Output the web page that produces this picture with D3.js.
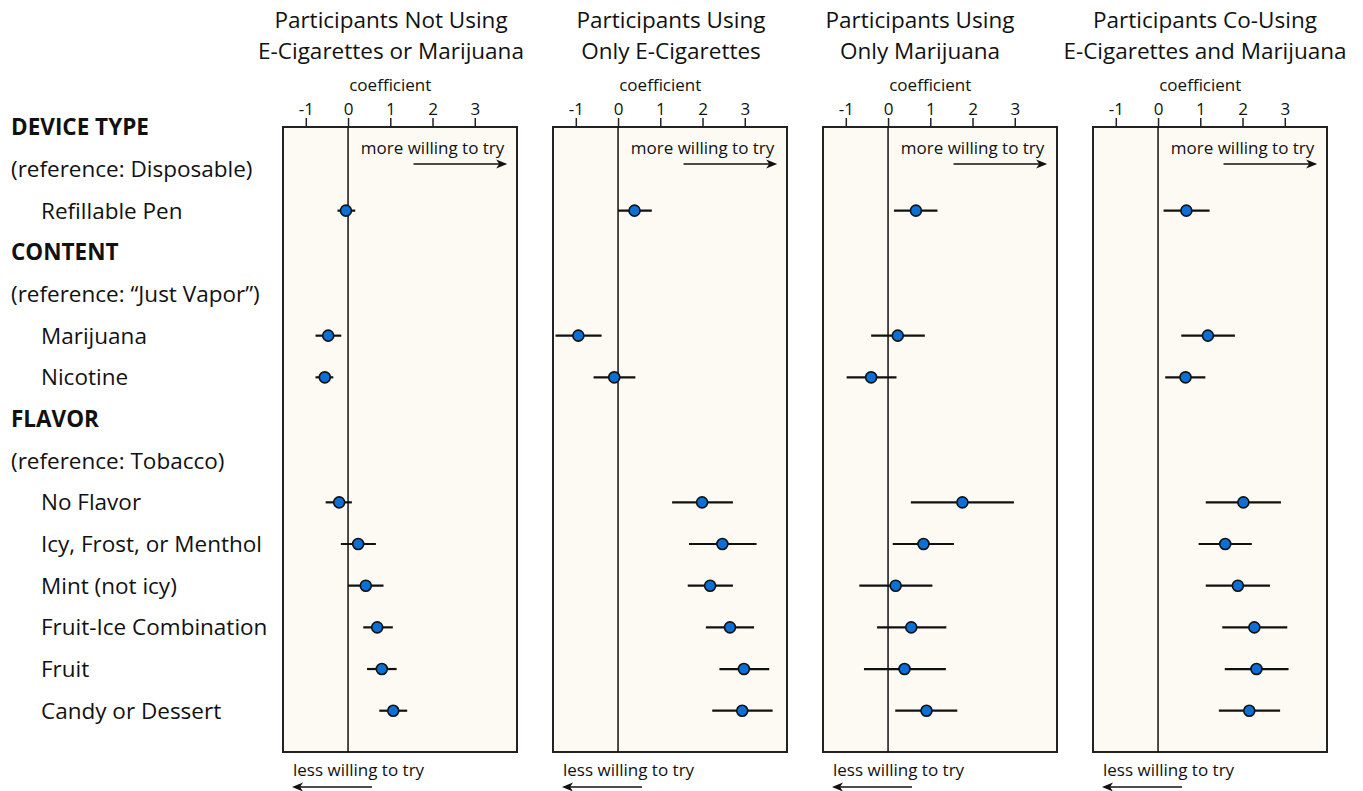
<!DOCTYPE html>
<html>
<head>
<meta charset="utf-8">
<script src="https://cdn.jsdelivr.net/npm/d3@7"></script>
<style>
  body { margin: 0; background: #fff; }
  text { font-family: 'Open Sans', Lato, sans-serif; fill: #111; }
</style>
</head>
<body>
<div id="chart"></div>
<script>
// Data
const rowLabels = [
  'DEVICE TYPE', '(reference: Disposable)', 'Refillable Pen',
  'CONTENT', '(reference: \u201cJust Vapor\u201d)', 'Marijuana', 'Nicotine',
  'FLAVOR', '(reference: Tobacco)', 'No Flavor', 'Icy, Frost, or Menthol',
  'Mint (not icy)', 'Fruit-Ice Combination', 'Fruit', 'Candy or Dessert',
];
const rowKinds = ['head', 'ref', 'item', 'head', 'ref', 'item', 'item',
  'head', 'ref', 'item', 'item', 'item', 'item', 'item', 'item'];
const items = ['Refillable Pen', 'Marijuana', 'Nicotine', 'No Flavor', 'Icy, Frost, or Menthol',
  'Mint (not icy)', 'Fruit-Ice Combination', 'Fruit', 'Candy or Dessert'];

const panelTitles = [
  ['Participants Not Using', 'E-Cigarettes or Marijuana'],
  ['Participants Using', 'Only E-Cigarettes'],
  ['Participants Using', 'Only Marijuana'],
  ['Participants Co-Using', 'E-Cigarettes and Marijuana'],
];
const tickValues = [-1, 0, 1, 2, 3];

// coefficient, lower, upper for each item (same order as items)
const estNone = [-0.05, -0.47, -0.55, -0.21, 0.24, 0.42, 0.69, 0.80, 1.07];
const lowNone = [-0.25, -0.77, -0.77, -0.53, -0.17, 0.0, 0.36, 0.45, 0.74];
const highNone = [0.17, -0.16, -0.35, 0.09, 0.66, 0.84, 1.06, 1.15, 1.40];

const estEcig = [0.39, -0.94, -0.09, 1.99, 2.47, 2.18, 2.65, 2.98, 2.94];
const lowEcig = [0.0, -1.48, -0.58, 1.28, 1.68, 1.65, 2.08, 2.40, 2.23];
const highEcig = [0.80, -0.39, 0.41, 2.72, 3.28, 2.72, 3.22, 3.58, 3.66];

const estMj = [0.66, 0.23, -0.40, 1.76, 0.84, 0.18, 0.55, 0.39, 0.91];
const lowMj = [0.14, -0.40, -0.98, 0.54, 0.11, -0.68, -0.26, -0.57, 0.17];
const highMj = [1.17, 0.87, 0.20, 2.98, 1.56, 1.05, 1.38, 1.37, 1.64];

const estCo = [0.67, 1.18, 0.65, 2.02, 1.59, 1.89, 2.28, 2.33, 2.16];
const lowCo = [0.13, 0.55, 0.17, 1.13, 0.96, 1.13, 1.52, 1.58, 1.44];
const highCo = [1.22, 1.82, 1.12, 2.91, 2.22, 2.65, 3.06, 3.09, 2.89];

const panels = [
  [estNone, lowNone, highNone],
  [estEcig, lowEcig, highEcig],
  [estMj, lowMj, highMj],
  [estCo, lowCo, highCo],
];

// Layout
const W = 1363, H = 791;
const panelW = 234, panelGap = 270, panelX0 = 283;
const frameTop = 127, frameBottom = 752;
const bigFont = '22.5px', smallFont = '17px';
// titles are not quite centred over their panels in the original
const titleShift = [-9, 1, -20, -5];

const svg = d3.select('#chart').append('svg')
  .attr('width', W).attr('height', H);

const y = d3.scalePoint().domain(rowLabels).range([127.3, 710.7]);

// left labels
svg.append('g')
  .selectAll('text')
  .data(rowLabels)
  .join('text')
  .attr('x', (d, i) => (rowKinds[i] === 'item' ? 41 : 11))
  .attr('y', (d) => y(d))
  .attr('dy', '0.35em')
  .style('font-size', bigFont)
  .style('font-weight', (d, i) => (rowKinds[i] === 'head' ? 700 : 400))
  .text((d) => d);

panels.forEach((p, k) => {
  const left = panelX0 + k * panelGap;
  const x = d3.scaleLinear().domain([-1.54, 4.0]).range([left, left + panelW]);
  const g = svg.append('g');

  // frame
  g.append('rect')
    .attr('x', left).attr('y', frameTop)
    .attr('width', panelW).attr('height', frameBottom - frameTop)
    .attr('fill', '#fcfaf3')
    .attr('stroke', '#222').attr('stroke-width', 2);

  // zero line
  g.append('line')
    .attr('x1', x(0)).attr('x2', x(0))
    .attr('y1', frameTop).attr('y2', frameBottom)
    .attr('stroke', '#111').attr('stroke-width', 1.5);

  // top axis
  const axis = g.append('g')
    .attr('transform', `translate(0, ${frameTop})`)
    .call(d3.axisTop(x).tickValues(tickValues).tickSize(9).tickPadding(3).tickFormat((d) => String(d)));
  axis.select('.domain').remove();
  axis.selectAll('.tick line').attr('stroke', '#222').attr('stroke-width', 1.5);
  axis.selectAll('.tick text')
    .style('font-size', smallFont)
    .style('font-family', "'Open Sans', sans-serif")
    .attr('fill', '#111');

  g.append('text')
    .attr('x', x(1))
    .attr('y', 91)
    .attr('text-anchor', 'middle')
    .style('font-size', smallFont)
    .text('coefficient');

  // titles
  const tx = left + panelW / 2 + titleShift[k];
  g.append('text')
    .attr('x', tx)
    .attr('y', 28)
    .attr('text-anchor', 'middle')
    .style('font-size', bigFont)
    .text(panelTitles[k][0]);
  g.append('text')
    .attr('x', tx)
    .attr('y', 59)
    .attr('text-anchor', 'middle')
    .style('font-size', bigFont)
    .text(panelTitles[k][1]);

  // more willing arrow
  g.append('text')
    .attr('x', x(3.7))
    .attr('y', 154)
    .attr('text-anchor', 'end')
    .style('font-size', smallFont)
    .text('more willing to try');
  g.append('line')
    .attr('x1', x(1.55)).attr('x2', x(3.72))
    .attr('y1', 164).attr('y2', 164)
    .attr('stroke', '#111').attr('stroke-width', 1.5);
  g.append('path')
    .attr('d', `M${x(3.72) + 2},164 l-11,-4.5 l3,4.5 l-3,4.5 z`)
    .attr('fill', '#111');

  // less willing arrow
  g.append('text')
    .attr('x', left + 10)
    .attr('y', 776)
    .style('font-size', smallFont)
    .text('less willing to try');
  g.append('line')
    .attr('x1', left + 12).attr('x2', left + 89)
    .attr('y1', 787).attr('y2', 787)
    .attr('stroke', '#111').attr('stroke-width', 1.5);
  g.append('path')
    .attr('d', `M${left + 9},787 l11,-4.5 l-3,4.5 l3,4.5 z`)
    .attr('fill', '#111');

  // error bars
  const [est, low, high] = p;
  g.selectAll('.ci')
    .data(items)
    .join('line')
    .attr('class', 'ci')
    .attr('x1', (d, i) => x(low[i]))
    .attr('x2', (d, i) => x(high[i]))
    .attr('y1', (d) => y(d))
    .attr('y2', (d) => y(d))
    .attr('stroke', '#111')
    .attr('stroke-width', 2.2);

  g.selectAll('.pt')
    .data(items)
    .join('circle')
    .attr('class', 'pt')
    .attr('cx', (d, i) => x(est[i]))
    .attr('cy', (d) => y(d))
    .attr('r', 5.5)
    .attr('fill', '#0a6fd6')
    .attr('stroke', '#111')
    .attr('stroke-width', 1.6);
});
</script>
</body>
</html>
